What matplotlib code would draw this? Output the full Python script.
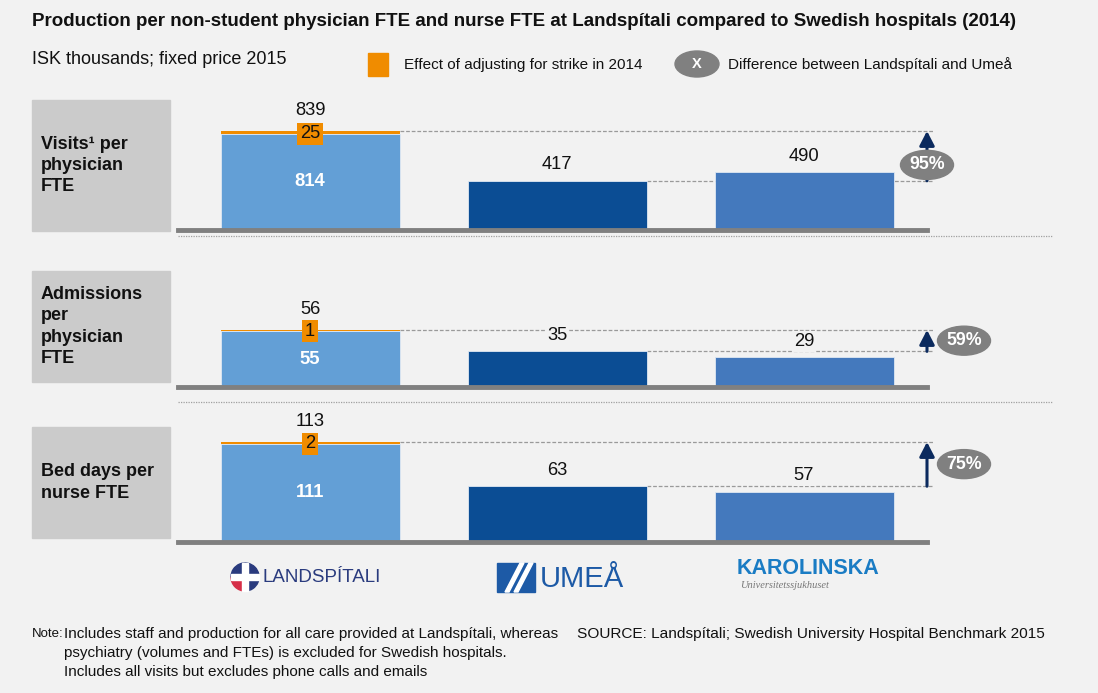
import numpy as np
import matplotlib.pyplot as plt
import matplotlib.transforms as mtransforms
from matplotlib.patches import Rectangle, Ellipse, Wedge, Polygon

plt.rcParams['font.family'] = ['Liberation Sans', 'DejaVu Sans']

# Data
hospitals = ['Landspítali', 'Umeå', 'Karolinska']
metric_labels = ['Visits¹ per\nphysician\nFTE',
                 'Admissions\nper\nphysician\nFTE',
                 'Bed days per\nnurse FTE']
ls_base = [814, 55, 111]
ls_strike = [25, 1, 2]
umea = [417, 35, 63]
karolinska = [490, 29, 57]
diff_pct = ['95%', '59%', '75%']

# Parameters
W, H = 1098, 693
bg = '#f2f2f2'
c_ls = '#639fd6'
c_umea = '#0b4d94'
c_karo = '#4479bd'
orange = '#f08c00'
navy = '#0b2a5e'
grey_dark = '#808080'
txt = '#111111'
val_fs = 13.2

baselines = [230, 387, 542]          # px from top
px_per_unit = [99 / 839, 57 / 56, 100 / 113]
box_rows = [(100, 231), (271, 382), (427, 538)]
ell_offset = [(0, 9), (37, 0), (37, 0)]   # px right / down from arrow middle


def fx(x):
    return x / W


def fy(y):
    return 1 - y / H


fig = plt.figure(figsize=(10.98, 6.93), dpi=100)
fig.patch.set_facecolor(bg)

# Header
fig.text(fx(32), fy(22), 'Production per non-student physician FTE and nurse FTE at Landspítali '
         'compared to Swedish hospitals (2014)', fontsize=13.5, weight='bold', va='center', color=txt)
fig.text(fx(32), fy(59), 'ISK thousands; fixed price 2015', fontsize=13, va='center', color=txt)
fig.patches.append(Rectangle((fx(368), fy(76)), 20 / W, 23 / H, transform=fig.transFigure,
                             color=orange))
fig.text(fx(404), fy(65), 'Effect of adjusting for strike in 2014', fontsize=11, va='center', color=txt)
fig.patches.append(Ellipse((fx(697), fy(64)), 44 / W, 26 / H, transform=fig.transFigure,
                           color=grey_dark))
fig.text(fx(697), fy(64), 'X', fontsize=10.5, weight='bold', color='white', ha='center', va='center')
fig.text(fx(728), fy(65), 'Difference between Landspítali and Umeå', fontsize=11, va='center', color=txt)

x0_px, x1_px, xc_px, step_px = 178, 1052, 310, 247
bar_w = 179 / step_px
x_line_end = (933 - xc_px) / step_px
x_arrow = (927 - xc_px) / step_px
ax_h = 125

for i in range(3):
    base = baselines[i]
    s = px_per_unit[i]

    # metric label box
    top, bot = box_rows[i]
    fig.patches.append(Rectangle((fx(32), fy(bot)), 138 / W, (bot - top) / H,
                                 transform=fig.transFigure, color='#cbcbcb'))
    fig.text(fx(41), fy((top + bot) / 2), metric_labels[i], fontsize=13, weight='bold',
             va='center', ha='left', linespacing=1.33, color=txt)

    ax = fig.add_axes([fx(x0_px), fy(base), (x1_px - x0_px) / W, ax_h / H])
    ax.set_xlim(-(xc_px - x0_px) / step_px, (x1_px - xc_px) / step_px)
    ax.set_ylim(0, ax_h / s)
    ax.axis('off')

    total = ls_base[i] + ls_strike[i]
    ax.bar(0, ls_base[i], width=bar_w, color=c_ls, edgecolor='#dfe8f2', linewidth=0.6, zorder=2)
    ax.bar(0, ls_strike[i], bottom=ls_base[i], width=bar_w, color=orange, zorder=2)
    ax.bar(1, umea[i], width=bar_w, color=c_umea, edgecolor='#dfe8f2', linewidth=0.6, zorder=2)
    ax.bar(2, karolinska[i], width=bar_w, color=c_karo, edgecolor='#dfe8f2', linewidth=0.6, zorder=2)

    # baseline
    ax.axhline(0, xmin=0, xmax=(927 - x0_px) / (x1_px - x0_px), color=grey_dark, lw=3.5,
               zorder=3, clip_on=False)

    # dashed reference lines
    ax.hlines(total, bar_w / 2, x_line_end, colors='#9a9a9a', lw=0.9,
              linestyles=(0, (3, 1.5)), zorder=1)
    ax.hlines(umea[i], 1 + bar_w / 2, x_line_end, colors='#9a9a9a', lw=0.9,
              linestyles=(0, (3, 1.5)), zorder=1)

    # value labels
    lab_box = dict(facecolor=bg, edgecolor='none', pad=1.5)
    ax.annotate(str(total), (0, total), xytext=(0, 15), textcoords='offset points',
                ha='center', va='center', fontsize=val_fs, color=txt, bbox=lab_box)
    ax.annotate(str(ls_strike[i]), (0, ls_base[i]), xytext=(0, 0), textcoords='offset points',
                ha='center', va='center', fontsize=val_fs, color=txt, zorder=5,
                bbox=dict(facecolor=orange, edgecolor='none', boxstyle='square,pad=0.14'))
    ax.text(0, ls_base[i] / 2, str(ls_base[i]), ha='center', va='center', fontsize=val_fs,
            weight='bold', color='white')
    ax.annotate(str(umea[i]), (1, umea[i]), xytext=(0, 11.5), textcoords='offset points',
                ha='center', va='center', fontsize=val_fs, color=txt, bbox=lab_box)
    ax.annotate(str(karolinska[i]), (2, karolinska[i]), xytext=(0, 11.5), textcoords='offset points',
                ha='center', va='center', fontsize=val_fs, color=txt, bbox=lab_box)

    # difference arrow
    ax.annotate('', xy=(x_arrow, total), xytext=(x_arrow, umea[i]),
                arrowprops=dict(arrowstyle='-|>,head_length=0.58,head_width=0.3', color=navy,
                                lw=2.2, mutation_scale=15, shrinkA=0, shrinkB=0), zorder=4)
    ymid = (total + umea[i]) / 2
    trans = fig.dpi_scale_trans + mtransforms.ScaledTranslation(x_arrow, ymid, ax.transData)
    dx, dy = ell_offset[i]
    ax.add_patch(Ellipse((dx / 100, -dy / 100), 0.53, 0.29, transform=trans,
                         color=grey_dark, zorder=5, clip_on=False))
    ax.text(dx / 100, -dy / 100, diff_pct[i], transform=trans, ha='center', va='center',
            fontsize=12.8, weight='bold', color='white', zorder=6, clip_on=False)

    # dotted separator
    if i < 2:
        sep = [236, 402][i]
        fig.add_artist(plt.Line2D([fx(178), fx(1052)], [fy(sep), fy(sep)], color='#a0a0a0',
                                  lw=0.9, linestyle=(0, (1, 1))))

# Logos (approximated with text and shapes)
lax = fig.add_axes([0, 0, 1, 1], zorder=-1)
lax.set_xlim(0, W)
lax.set_ylim(H, 0)
lax.axis('off')
lax.add_patch(Wedge((245, 577), 14, 90, 180, color='#d62f48'))
lax.add_patch(Wedge((245, 577), 14, 180, 450, color='#2a3b7e'))
lax.add_patch(Rectangle((242, 563), 6, 28, color='white'))
lax.add_patch(Rectangle((231, 574), 28, 6, color='white'))
lax.text(262, 578, 'LANDSPÍTALI', fontsize=13.5, color='#2a3b7e', va='center')

lax.add_patch(Rectangle((497, 563), 38, 29, color='#1d5aa6'))
lax.add_patch(Polygon([(505, 592), (520, 563), (524, 563), (509, 592)], color='white'))
lax.add_patch(Polygon([(514, 592), (529, 563), (533, 563), (518, 592)], color='white'))
lax.text(540, 579, 'UMEÅ', fontsize=21, color='#1d5aa6', va='center')

lax.text(737, 569, 'KAROLINSKA', fontsize=15.5, weight='bold', color='#1a7cc4', va='center')
lax.text(740, 585, 'Universitetssjukhuset', fontsize=7.5, style='italic', color='#777777',
         va='center', family='Liberation Serif')

# Footnotes
fig.text(fx(32), fy(634), 'Note:', fontsize=9.5, va='center', color=txt)
notes = ['Includes staff and production for all care provided at Landspítali, whereas',
         'psychiatry (volumes and FTEs) is excluded for Swedish hospitals.',
         'Includes all visits but excludes phone calls and emails']
for k, line in enumerate(notes):
    fig.text(fx(64), fy(634 + 19 * k), line, fontsize=11, va='center', color=txt)
fig.text(fx(577), fy(634), 'SOURCE: Landspítali; Swedish University Hospital Benchmark 2015',
         fontsize=11.1, va='center', color=txt)

fig.savefig('out.png', dpi=100, facecolor=fig.get_facecolor())
